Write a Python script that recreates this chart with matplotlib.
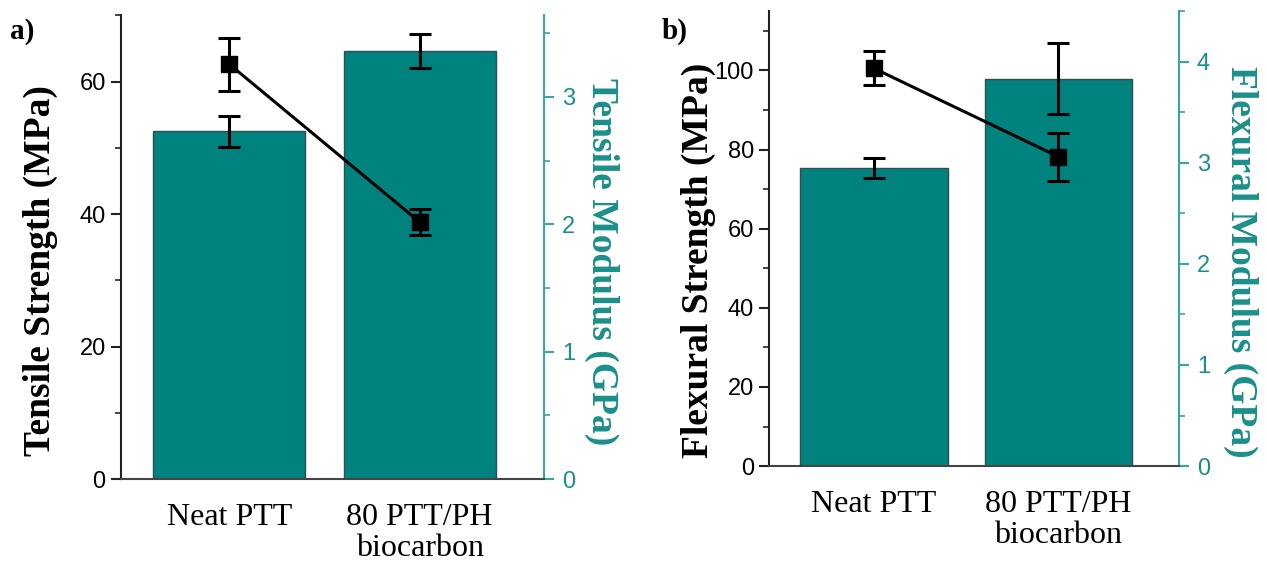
import matplotlib
matplotlib.use("Agg")
import matplotlib.pyplot as plt
from matplotlib.ticker import MultipleLocator
import numpy as np

categories = ["Neat PTT", "80 PTT/PH\nbiocarbon"]

tensile_strength = [62.6, 38.8]
tensile_strength_err = [4.0, 2.0]
tensile_modulus = [2.73, 3.36]
tensile_modulus_err = [0.12, 0.13]

flex_strength = [100.5, 78.2]
flex_strength_err = [4.3, 6.1]
flex_modulus = [2.95, 3.83]
flex_modulus_err = [0.10, 0.35]

TEAL = "#00827f"
TEAL_TXT = "#1a8f8a"
TEAL_SPINE = "#3aa6a0"
SERIF = "Liberation Serif"
plt.rcParams["font.family"] = SERIF
SANS = "Liberation Sans"

fig = plt.figure(figsize=(12.67, 5.65), dpi=100)


def panel(rect, strength, s_err, modulus, m_err, s_lim, s_major, m_lim, m_major,
          ylab_l, ylab_r, letter, letter_xy, lpos, rpos):
    ax = fig.add_axes(rect)
    ax2 = ax.twinx()
    x = np.arange(len(categories))
    ax2.bar(x, modulus, width=0.8, color=TEAL, edgecolor="#2f4f4f", linewidth=1.0,
            yerr=m_err, error_kw=dict(ecolor="black", elinewidth=2.2, capsize=8, capthick=2.2),
            zorder=1)
    ax2.set_ylim(*m_lim)
    ax.set_ylim(*s_lim)
    ax.set_xlim(-0.57, 1.655)
    ax.set_zorder(ax2.get_zorder() + 1)
    ax.patch.set_visible(False)
    ax.errorbar(x, strength, yerr=s_err, color="black", lw=2.2, marker="s", ms=12,
                ecolor="black", elinewidth=2.2, capsize=8, capthick=2.2, zorder=5)

    ax.yaxis.set_major_locator(MultipleLocator(s_major))
    ax.yaxis.set_minor_locator(MultipleLocator(s_major / 2))
    ax2.yaxis.set_major_locator(MultipleLocator(m_major))
    ax2.yaxis.set_minor_locator(MultipleLocator(m_major / 2))

    for a in (ax, ax2):
        a.spines["top"].set_visible(False)
    ax.spines["right"].set_visible(False)
    ax2.spines["left"].set_visible(False)
    ax2.spines["bottom"].set_visible(False)
    ax.spines["left"].set_color("#222222")
    ax.spines["bottom"].set_color("#444444")
    ax.spines["left"].set_linewidth(1.5)
    ax.spines["bottom"].set_linewidth(1.5)
    ax2.spines["right"].set_color(TEAL_SPINE)
    ax2.spines["right"].set_linewidth(1.5)

    ax.tick_params(axis="y", which="major", direction="out", length=7, width=1.5,
                   labelsize=17, color="#222222", pad=4)
    ax.tick_params(axis="y", which="minor", direction="out", length=4, width=1.2, color="#222222")
    ax2.tick_params(axis="y", which="major", direction="out", length=7, width=1.5,
                    labelsize=17, color=TEAL_SPINE, labelcolor=TEAL_TXT, pad=6)
    ax2.tick_params(axis="y", which="minor", direction="out", length=4, width=1.2, color=TEAL_SPINE)
    for lab in ax.get_yticklabels() + ax2.get_yticklabels():
        lab.set_family(SANS)

    ax.set_xticks(x)
    ax.set_xticklabels(categories, fontsize=23, linespacing=1.1, family=SERIF)
    ax.tick_params(axis="x", length=0, pad=17)

    l1 = ax.set_ylabel(ylab_l, fontweight="bold", fontsize=27)
    ax.yaxis.set_label_coords(*lpos)
    l1.set_verticalalignment("center")
    l1.set_horizontalalignment("center")
    l2 = ax2.set_ylabel(ylab_r, fontweight="bold", fontsize=27, color=TEAL_TXT, rotation=270)
    ax2.yaxis.set_label_coords(*rpos)
    l2.set_verticalalignment("center")
    l2.set_horizontalalignment("center")
    fig.text(letter_xy[0], letter_xy[1], letter, fontweight="bold",
             fontsize=21, ha="left", va="center")


panel([0.0955, 0.152, 0.334, 0.821], tensile_strength, tensile_strength_err,
      tensile_modulus, tensile_modulus_err, (0, 70), 20, (0, 3.64), 1,
      "Tensile Strength (MPa)", "Tensile Modulus (GPa)", "a)", (0.008, 0.945),
      (-0.19, 0.45), (1.135, 0.468))

panel([0.607, 0.175, 0.3235, 0.8055], flex_strength, flex_strength_err,
      flex_modulus, flex_modulus_err, (0, 115), 20, (0, 4.5), 1,
      "Flexural Strength (MPa)", "Flexural Modulus (GPa)", "b)", (0.522, 0.945),
      (-0.172, 0.453), (1.15, 0.45))

fig.savefig("out.png", dpi=100)
